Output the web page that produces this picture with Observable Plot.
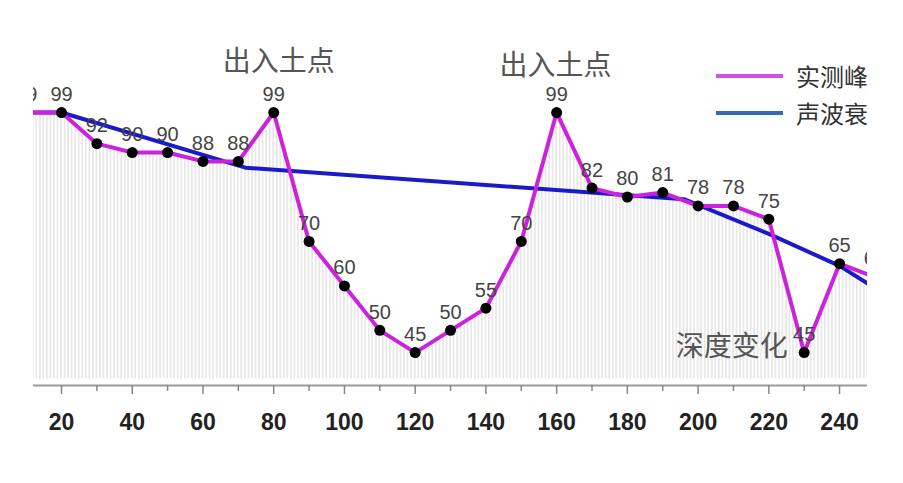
<!DOCTYPE html>
<html><head><meta charset="utf-8">
<script src="https://cdn.jsdelivr.net/npm/d3@7"></script>
<script src="https://cdn.jsdelivr.net/npm/@observablehq/plot@0.6"></script>
<style>
html,body{margin:0;padding:0;background:#fff;}
#wrap{position:relative;width:903px;height:483px;overflow:hidden;}
#legend{position:absolute;left:716px;top:57px;width:151px;overflow:hidden;white-space:nowrap;font-family:"Noto Sans CJK SC",sans-serif;font-size:24px;color:#333;}
.row{display:flex;align-items:center;height:37px;}
.sw{width:67px;height:4px;margin-right:13px;flex:none;}
</style></head><body><div id="wrap"><div id="chart"></div><div id="legend"></div></div>
<script>
// Distance (x) and measured peak values (magenta series)
const distances = [10,20,30,40,50,60,70,80,90,100,110,120,130,140,150,160,170,180,190,200,210,220,230,240,250];
const peakValues = [99,99,92,90,90,88,88,99,70,60,50,45,50,55,70,99,82,80,81,78,78,75,45,65,62];
// Sound-wave attenuation trend (blue series)
const attenX = [10,20,72,196,220,240,250];
const attenY = [99,99,86.6,79.5,71.7,64.5,59.5];
// Axis ticks
const majorTicks = [20,40,60,80,100,120,140,160,180,200,220,240];
const minorTicks = [30,50,70,90,110,130,150,170,190,210,230];
// Annotations
const annoText = ["出入土点","出入土点","深度变化"];
const annoX = [81.4,159.7,209.5];
const annoY = [110.4,109.5,46.3];
// Legend
const legendNames = ["实测峰值","声波衰减"];
const legendColors = ["#cc55dd","#2f6db5"];

const magenta = "#cc22dd", blue = "#1a1ac8";
const baseY = 37.6, hatchBase = 39.1;

const rows = distances.map((x,i)=>({x, v: peakValues[i]}));
const atten = attenX.map((x,i)=>({x, v: attenY[i]}));
const annos = annoText.map((t,i)=>({t, x: annoX[i], y: annoY[i]}));

const plot = Plot.plot({
  width: 903, height: 483,
  marginLeft: 33, marginRight: 36, marginTop: 20, marginBottom: 98,
  x: {domain: [12.08, 247.9], label: null},
  y: {domain: [baseY, 119.7], axis: null},
  style: {background: "white", fontFamily: "'Liberation Sans', Arial, sans-serif"},
  marks: [
    Plot.areaY(rows, {x: "x", y1: hatchBase, y2: "v", fill: "url(#hatch)", clip: true}),
    Plot.line(atten, {x: "x", y: "v", stroke: blue, strokeWidth: 4, clip: true}),
    Plot.line(rows, {x: "x", y: "v", stroke: magenta, strokeWidth: 4, clip: true}),
    Plot.dot(rows, {x: "x", y: "v", r: 5.5, fill: "black", clip: true}),
    Plot.text(rows, {x: "x", y: "v", text: d => String(d.v), dy: -18, fontSize: 20, fill: "#444", clip: true}),
    Plot.ruleY([baseY], {stroke: "#9a9a9a", strokeWidth: 2}),
    Plot.axisX({ticks: majorTicks, label: null, tickSize: 9, tickPadding: 19, fontSize: 23, fontWeight: "bold", fill: "#222", stroke: "#888", strokeWidth: 1.5}),
    Plot.axisX({ticks: minorTicks, label: null, tickSize: 6, tickFormat: () => "", stroke: "#888", strokeWidth: 1.5}),
    Plot.text(annos, {x: "x", y: "y", text: "t", fontSize: 28, fontFamily: "'Noto Sans CJK SC', sans-serif", fill: "#555"})
  ]
});

// hatch pattern aligned to x scale units
const xs = plot.scale("x");
const w = xs.apply(1) - xs.apply(0);
const svg = d3.select(plot);
const defs = svg.insert("defs", ":first-child");
const pat = defs.append("pattern").attr("id","hatch").attr("patternUnits","userSpaceOnUse")
  .attr("width", w).attr("height", 10).attr("x", xs.apply(0) - w/2).attr("y", 0);
pat.append("line").attr("x1", w/2).attr("x2", w/2).attr("y1", 0).attr("y2", 10)
  .attr("stroke", "#d6d6d6").attr("stroke-width", 1);

document.getElementById("chart").appendChild(plot);

const legend = d3.select("#legend");
legendNames.forEach((n,i)=>{
  const r = legend.append("div").attr("class","row");
  r.append("div").attr("class","sw").style("background", legendColors[i]);
  r.append("span").text(n);
});
</script>
</body></html>
